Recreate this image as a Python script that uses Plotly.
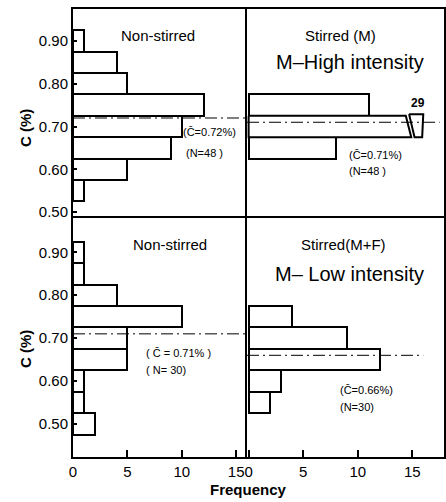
import plotly.graph_objects as go

# ---------------- data ----------------
BIN_WIDTH = 0.05
TL_C = [0.55, 0.60, 0.65, 0.70, 0.75, 0.80, 0.85, 0.90]   # Non-stirred (high)
TL_N = [1, 5, 9, 10, 12, 5, 4, 1]
TR_C = [0.65, 0.70, 0.75]                                 # Stirred (M)
TR_N = [8, 29, 11]
BL_C = [0.50, 0.55, 0.60, 0.65, 0.70, 0.75, 0.80, 0.85, 0.90]  # Non-stirred (low)
BL_N = [2, 1, 1, 5, 5, 10, 4, 1, 1]
BR_C = [0.55, 0.60, 0.65, 0.70, 0.75]                     # Stirred (M+F)
BR_N = [2, 3, 12, 9, 4]
MEANS = {"tl": 0.72, "tr": 0.71, "bl": 0.71, "br": 0.66}
NS = {"tl": 48, "tr": 48, "bl": 30, "br": 30}
Y_TICKS = [0.50, 0.60, 0.70, 0.80, 0.90]
X_TICKS = [0, 5, 10, 15]

# broken-bar drawing parameters (top-right, value beyond axis)
BREAK_X = 14.4
BREAK_SLANT = 0.5
BREAK_GAP = 0.3
STUB_LEN = 1.3

FONT = "Liberation Sans"
W_FIG, H_FIG = 446, 502
L, T, W, H = 73, 9, 371, 448      # plot area in page pixels
XS = (247 - L) / W
YS = (457 - 218) / H


def px(x):
    return (x - L) / W


def py(y):
    return (T + H - y) / H


fig = go.Figure()

bar_style = dict(orientation="h", width=BIN_WIDTH,
                 marker=dict(color="white", line=dict(color="black", width=2)),
                 showlegend=False, hoverinfo="skip")

fig.add_trace(go.Bar(y=TL_C, x=TL_N, xaxis="x3", yaxis="y3", **bar_style))
fig.add_trace(go.Bar(y=BL_C, x=BL_N, xaxis="x", yaxis="y", **bar_style))
fig.add_trace(go.Bar(y=BR_C, x=BR_N, xaxis="x2", yaxis="y2", **bar_style))

# top-right: normal bars + broken bar
XMAX_R = 17.9
norm_c = [c for c, n in zip(TR_C, TR_N) if n <= XMAX_R]
norm_n = [n for n in TR_N if n <= XMAX_R]
fig.add_trace(go.Bar(y=norm_c, x=norm_n, xaxis="x4", yaxis="y4", **bar_style))
for c, n in zip(TR_C, TR_N):
    if n > XMAX_R:
        y0, y1 = c + BIN_WIDTH / 2, c - BIN_WIDTH / 2
        fig.add_trace(go.Scatter(
            x=[0, BREAK_X, BREAK_X + BREAK_SLANT, 0, 0],
            y=[y0, y0, y1, y1, y0], mode="lines", fill="toself",
            fillcolor="white", line=dict(color="black", width=2),
            xaxis="x4", yaxis="y4", showlegend=False, hoverinfo="skip"))
        sx0 = BREAK_X + BREAK_GAP
        fig.add_trace(go.Scatter(
            x=[sx0, sx0 + STUB_LEN, sx0 + STUB_LEN - 0.1, sx0 + BREAK_SLANT, sx0],
            y=[y0 + 0.004, y0 + 0.004, y1, y1, y0 + 0.004], mode="lines", fill="toself",
            fillcolor="white", line=dict(color="black", width=2),
            xaxis="x4", yaxis="y4", showlegend=False, hoverinfo="skip"))
        fig.add_annotation(x=sx0 + STUB_LEN / 2 + 0.2, y=y0 + 0.004, xref="x4", yref="y4",
                           text=str(n), showarrow=False, yanchor="bottom",
                           font=dict(family=FONT, size=12, color="black", weight="bold"),
                           yshift=2)

# mean lines
dash = "12px,4px,2px,4px"
for key, xa, ya, xr in [("tl", "x3", "y3", (0, 16)), ("tr", "x4", "y4", (-0.15, 17.5)),
                        ("bl", "x", "y", (0, 16)), ("br", "x2", "y2", (-0.15, 16))]:
    fig.add_shape(type="line", xref=xa, yref=ya, x0=xr[0], x1=xr[1],
                  y0=MEANS[key], y1=MEANS[key],
                  line=dict(color="black", width=1, dash=dash))

axis_common = dict(showline=True, linecolor="black", linewidth=2,
                   showgrid=False, zeroline=False, automargin=False,
                   tickfont=dict(family=FONT, size=15, color="black"))
xt = dict(ticks="inside", ticklen=7, tickwidth=1.5, tickcolor="black")
yt = dict(ticks="inside", ticklen=4, tickwidth=1.5, tickcolor="black",
          tickformat=".2f", tickvals=Y_TICKS)

fig.update_layout(
    width=W_FIG, height=H_FIG,
    margin=dict(l=L, r=W_FIG - L - W, t=T, b=H_FIG - T - H),
    paper_bgcolor="white", plot_bgcolor="white",
    bargap=0,
    # bottom-left
    xaxis=dict(domain=[0, XS], anchor="y", range=[0, 16], tickvals=X_TICKS,
               mirror=True, **xt, **axis_common),
    yaxis=dict(domain=[0, YS], anchor="x", range=[0.423, 0.98], mirror=False,
               **yt, **axis_common),
    # bottom-right
    xaxis2=dict(domain=[XS, 1], anchor="y2", range=[-0.15, XMAX_R], tickvals=X_TICKS,
                mirror=True, **xt, **axis_common),
    yaxis2=dict(domain=[0, YS], anchor="x2", range=[0.423, 0.98], mirror=True,
                showticklabels=False, ticks="", **axis_common),
    # top-left
    xaxis3=dict(domain=[0, XS], anchor="y3", range=[0, 16], side="top", mirror=False,
                showticklabels=False, ticks="", **axis_common),
    yaxis3=dict(domain=[YS, 1], anchor="x3", range=[0.486, 0.975], mirror=False,
                **yt, **axis_common),
    # top-right
    xaxis4=dict(domain=[XS, 1], anchor="y4", range=[-0.15, XMAX_R], side="top",
                mirror=False, showticklabels=False, ticks="", **axis_common),
    yaxis4=dict(domain=[YS, 1], anchor="x4", range=[0.486, 0.975], mirror=True,
                showticklabels=False, ticks="", **axis_common),
)


def ann(x, y, text, size, xanchor="center", angle=0, weight="normal"):
    fig.add_annotation(x=px(x), y=py(y), xref="paper", yref="paper", text=text,
                       showarrow=False, xanchor=xanchor, yanchor="middle",
                       textangle=angle,
                       font=dict(family=FONT, size=size, color="black", weight=weight))


CB = "C\u0304"
# top-left
ann(158, 36, "Non-stirred", 15)
ann(181, 132, f"({CB}={MEANS['tl']:.2f}%)", 11, "left")
ann(184, 153, f"(N={NS['tl']} )", 11, "left")
# top-right
ann(340, 36, "Stirred (M)", 15)
ann(350, 62, "M\u2013High intensity", 20)
ann(347, 155, f"({CB}={MEANS['tr']:.2f}%)", 11, "left")
ann(347, 171, f"(N={NS['tr']} )", 11, "left")
# bottom-left
ann(170, 244, "Non-stirred", 15)
ann(144, 353, f"( {CB} = {MEANS['bl']:.2f}% )", 11, "left")
ann(144, 370, f"( N= {NS['bl']})", 11, "left")
# bottom-right
ann(343, 244, "Stirred(M+F)", 15)
ann(349, 274, "M\u2013 Low intensity", 20)
ann(338, 390, f"({CB}={MEANS['br']:.2f}%)", 11, "left")
ann(338, 407, f"(N={NS['br']})", 11, "left")
# axis titles
ann(25, 128, "C (%)", 15, angle=-90, weight="bold")
ann(25, 349, "C (%)", 15, angle=-90, weight="bold")
ann(248, 490, "Frequency", 15, weight="bold")

fig.write_html(
    "out.html",
    config={"displayModeBar": False},
    post_script="document.body.style.margin='0';document.body.style.overflow='hidden';",
)
